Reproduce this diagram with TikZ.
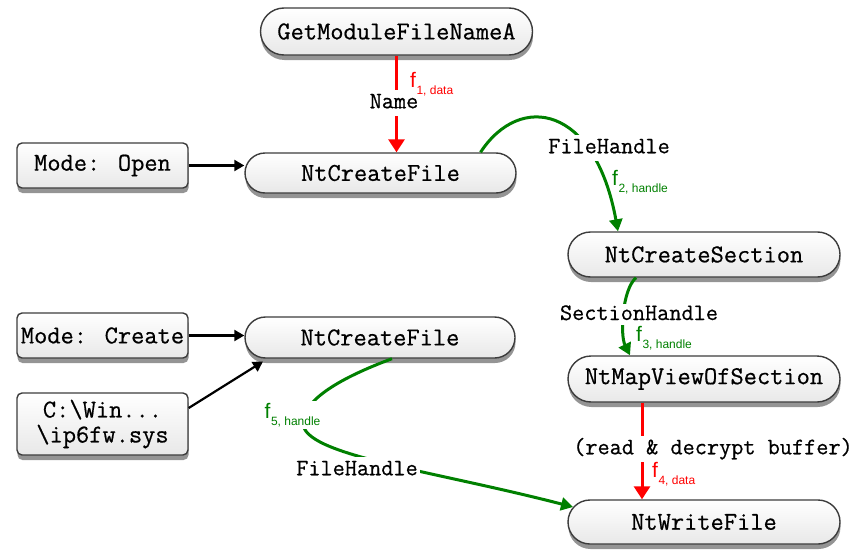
\documentclass[tikz,border=0pt]{standalone}
\usepackage{fontspec}
\newfontfamily\sansf{Liberation Sans}
\newfontfamily\monob[FakeBold=0.6]{Latin Modern Mono}
\usetikzlibrary{shapes.misc,shadows,arrows.meta}
\definecolor{fgreen}{RGB}{0,128,0}
\definecolor{bordergray}{RGB}{60,60,60}
\newcommand\flab[1]{{\sansf\fontsize{21}{21}\selectfont f}\kern0.5pt\raisebox{-7.5pt}{\sansf\fontsize{12}{12}\selectfont #1}}
\begin{document}
\begin{tikzpicture}[x=1pt,y=-1pt,
  boxbase/.style={draw=bordergray, line width=1.4pt, top color=white, bottom color=black!9,
    drop shadow={shadow xshift=0.5pt, shadow yshift=-5pt, fill=black!42, opacity=1},
    inner sep=0pt, font=\monob\fontsize{25.7}{25}\selectfont, align=center},
  pill/.style={boxbase, rounded rectangle, minimum width=272pt},
  rbox/.style={boxbase, rectangle, rounded corners=5pt, minimum width=171pt},
  lbl/.style={fill=white, inner xsep=2pt, inner ysep=4pt, font=\monob\fontsize{23.6}{24}\selectfont, text height=14.5pt, text depth=4pt},
  fl/.style={inner sep=0pt, anchor=base west},
  redarrow/.style={draw=red, line width=3pt, -{Triangle[length=13pt,width=16pt]}},
  greenarrow/.style={draw=fgreen, line width=3pt, -{Triangle[length=12pt,width=13pt]}},
  blackarrow/.style={draw=black, line width=2.2pt, -{Triangle[length=10pt,width=11pt]}}
]
\useasboundingbox (0,0) rectangle (857,554);

% nodes
\node[pill, minimum height=47pt] (gmfn) at (396.5,31.5) {GetModuleFileNameA};
\node[pill, minimum height=40pt, minimum width=271pt] (ncf1) at (380.5,173) {NtCreateFile};
\node[pill, minimum height=45pt] (ncs) at (704,254.5) {NtCreateSection};
\node[pill, minimum height=46pt] (nmv) at (704,379) {NtMapViewOfSection};
\node[pill, minimum height=44pt] (nwf) at (704,522) {NtWriteFile};
\node[pill, minimum height=41pt, minimum width=270pt] (ncf2) at (380,337.5) {NtCreateFile};
\node[rbox, minimum height=45pt] (mo) at (102.5,165.5) {Mode: Open};
\node[rbox, minimum height=45pt] (mc) at (102.5,335.5) {Mode: Create};
\node[rbox, minimum height=62pt] (cw) at (102.5,424) {C:\textbackslash Win...\\\textbackslash ip6fw.sys};

% connectors
\draw[redarrow] (gmfn.south) -- (gmfn.south |- ncf1.north);
\draw[blackarrow] (mo.east) -- (mo.east -| ncf1.west);
\draw[blackarrow] (mc.east) -- (mc.east -| ncf2.west);
\draw[blackarrow] ([yshift=16pt]cw.east) -- ([xshift=-117pt,yshift=-24pt]ncf2.center);
\draw[greenarrow] ([xshift=100pt]ncf1.north) .. controls (520,92) and (595,105) .. ([xshift=-86pt]ncs.north);
\draw[greenarrow] ([xshift=-68pt]ncs.south) .. controls (622,290) and (620,335) .. ([xshift=-74pt]nmv.north);
\draw[redarrow] ([xshift=-62pt]nmv.south) -- ([xshift=-62pt]nwf.north);
\coordinate (g3m) at (303,423);
\draw[greenarrow] ([xshift=12pt]ncf2.south) .. controls (340,378) and (303,400) .. (g3m)
   .. controls (303,455) and (430,470) .. ([xshift=-131pt,yshift=15pt]nwf.center);

% labels
\node[lbl] (lname) at (394,103) {Name};
\node[lbl] (lfh1) at (609,148) {FileHandle};
\node[lbl, inner ysep=2pt, text depth=2.5pt] (lsh) at (639,314) {SectionHandle};
\node[lbl] (lrd) at (713,449) {(read \& decrypt buffer)};
\node[lbl] (lfh2) at (357,470) {FileHandle};

\node[fl, text=red] (f1) at (410,87) {\flab{1, data}};
\node[fl, text=fgreen] (f2) at (612,185) {\flab{2, handle}};
\node[fl, text=fgreen] (f3) at (636,341) {\flab{3, handle}};
\node[fl, text=red] (f4) at (652,477) {\flab{4, data}};
\node[fl, text=fgreen, fill=white, inner sep=1.5pt] (f5) at (263,418) {\flab{5, handle}};
\end{tikzpicture}
\end{document}
